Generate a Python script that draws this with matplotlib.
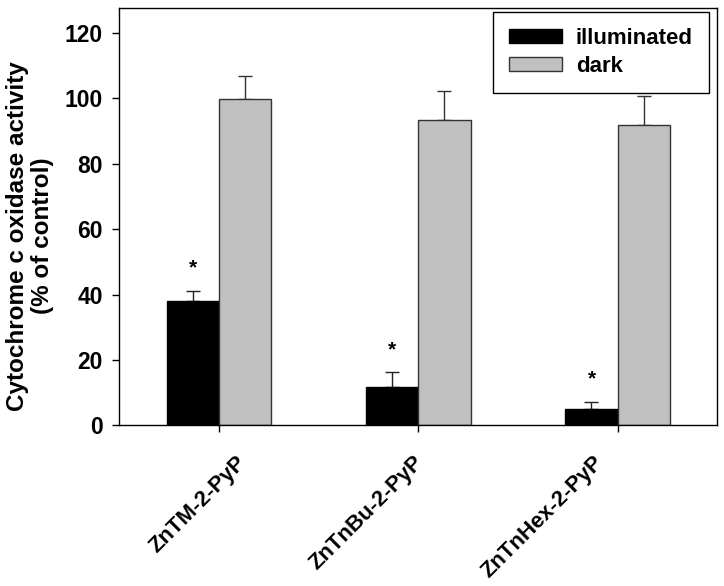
import matplotlib
matplotlib.use("Agg")
import matplotlib.pyplot as plt
import numpy as np

plt.rcParams['font.family'] = ['Liberation Sans', 'DejaVu Sans']

categories = ["ZnTM-2-PyP", "ZnTnBu-2-PyP", "ZnTnHex-2-PyP"]
illuminated = [37.9, 11.9, 5.0]
illuminated_err = [3.2, 4.4, 2.2]
dark = [99.7, 93.3, 91.7]
dark_err = [7.0, 8.9, 8.9]
significant = ["*", "*", "*"]
yticks = [0, 20, 40, 60, 80, 100, 120]

DPI = 100
fig = plt.figure(figsize=(7.24, 5.86), dpi=DPI)
ax = fig.add_axes([0.1648, 0.2739, 0.8259, 0.7124])

x = np.arange(len(categories))
w = 0.262
ax.bar(x - w/2, illuminated, w, color='black', edgecolor='black', linewidth=1,
       label='illuminated', zorder=2)
ax.bar(x + w/2, dark, w, color='#c0c0c0', edgecolor='#333333', linewidth=1,
       label='dark', zorder=2)
ax.errorbar(x - w/2, illuminated, yerr=[np.zeros(3), illuminated_err], fmt='none',
            ecolor='#222222', elinewidth=1, capsize=4.7, capthick=1, zorder=1)
ax.errorbar(x + w/2, dark, yerr=[np.zeros(3), dark_err], fmt='none',
            ecolor='#333333', elinewidth=1, capsize=4.7, capthick=1, zorder=1)

for xi, v, e, s in zip(x, illuminated, illuminated_err, significant):
    ax.text(xi - w/2, v + e + 6.9, s, ha='center', va='center',
            fontsize=15, fontweight='bold')

ax.set_xlim(-0.5, 2.5)
ax.set_ylim(0, 127.5)
ax.set_yticks(yticks)
ax.set_yticklabels([str(t) for t in yticks], fontsize=16.5, fontweight='bold')
ax.set_xticks(x)
ax.set_xticklabels([])

# rotated category labels placed under each tick (pixel offsets)
label_dx_px = [31, 9, -10]
for xi, name, dx in zip(x, categories, label_dx_px):
    ax.annotate(name, xy=(xi, 0), xycoords=('data', 'axes fraction'),
                xytext=(dx * 72 / DPI, -26.5 * 72 / DPI), textcoords='offset points',
                rotation=45, ha='right', va='top', fontsize=15.8,
                fontweight='bold', annotation_clip=False)

ax.tick_params(axis='both', direction='out', length=5, width=1, color='black')
ax.tick_params(axis='y', pad=7)
for sp in ax.spines.values():
    sp.set_linewidth(1)
    sp.set_color('black')

ax.set_ylabel("Cytochrome c oxidase activity\n(% of control)", fontsize=17.5,
              fontweight='bold', linespacing=1.1)
ax.yaxis.set_label_coords(-0.109, 0.454)

leg = ax.legend(loc='upper right', bbox_to_anchor=(0.9861, 0.9904),
                borderaxespad=0,
                prop={'size': 16, 'weight': 'bold'}, frameon=True, fancybox=False,
                edgecolor='black', framealpha=1, handlelength=2.37,
                handleheight=0.55, borderpad=0.72, labelspacing=0.3,
                handletextpad=0.65)
leg.get_frame().set_linewidth(1)

fig.savefig("out.png", dpi=DPI)
